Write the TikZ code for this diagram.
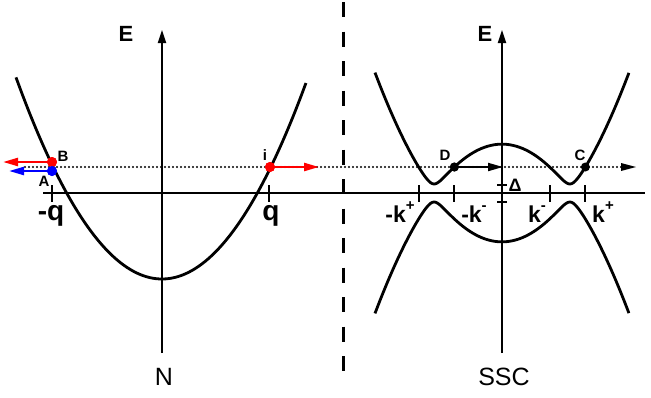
\documentclass[tikz,border=0pt]{standalone}
\usepackage{fontspec}
\setmainfont{Liberation Sans}
\usetikzlibrary{arrows.meta}
\newcommand{\supp}[1]{\raisebox{0.5em}{\fontsize{15}{15}\selectfont #1}}
\begin{document}
\begin{tikzpicture}[x=1pt,y=-1pt,
  axis/.style={line width=1.8pt},
  curve/.style={line width=2.8pt},
  tickmark/.style={line width=1.8pt},
  dotline/.style={line width=2.2pt, line cap=round, dash pattern=on 0pt off 4pt},
  axtip/.style={-{Triangle[length=13pt,width=8pt]}},
  vec/.style={line width=2.4pt, -{Triangle[length=15pt,width=8pt]}},
  pt/.style={circle, inner sep=0pt, minimum size=10pt, fill=#1},
  lbl/.style={font=\fontsize{15}{15}\selectfont\bfseries, inner sep=0pt},
  biglbl/.style={font=\fontsize{28}{28}\selectfont\bfseries, inner sep=0pt, anchor=base},
  klbl/.style={font=\fontsize{23}{23}\selectfont\bfseries, inner sep=0pt, anchor=base},
  elbl/.style={font=\fontsize{22}{22}\selectfont\bfseries, inner sep=0pt},
  panel/.style={font=\fontsize{25}{25}\selectfont, inner sep=0pt}
]
\useasboundingbox (0,0) rectangle (651,397);

% coordinates
\coordinate (hl) at (43,193);
\coordinate (hr) at (645,193);
\coordinate (nb) at (162,353);
\coordinate (nt) at (162,30);
\coordinate (sb) at (502,353);
\coordinate (st) at (502,30);
\coordinate (dl) at (25,167);
\coordinate (dr) at (636,167);
\coordinate (dashtop) at (343,2);
\coordinate (dashbot) at (343,376);

% dashed separator
\draw[line width=3pt, dash pattern=on 15pt off 14.5pt] (dashtop) -- (dashbot);

% axes
\draw[axis] (hl) -- (hr);
\draw[axis, axtip] (nb) -- (nt);
\draw[axis, axtip] (sb) -- (st);

% ticks
\foreach \xx/\nm in {52/tq1, 269/tq2, 419/tk1, 454/tk2, 550/tk3, 585/tk4}{
  \coordinate (\nm a) at (\xx,185);
  \coordinate (\nm b) at (\xx,202);
  \draw[tickmark] (\nm a) -- (\nm b);
}
\coordinate (dta) at (497,185); \coordinate (dtb) at (507,185);
\coordinate (dtc) at (497,202); \coordinate (dtd) at (507,202);
\draw[tickmark] (dta) -- (dtb);
\draw[tickmark] (dtc) -- (dtd);

% curves
\draw[curve] plot[domain=-1.46:1.44, samples=90, smooth] ({162+100*\x},{279-94.6*\x*\x});
\draw[curve] plot[domain=-1.27:1.27, samples=161, smooth]
  ({502+100*\x},{193-10*sqrt((10.42*(\x*\x-0.4608))^2+0.81)});
\draw[curve] plot[domain=-1.27:1.27, samples=161, smooth]
  ({502+100*\x},{193+10*sqrt((10.42*(\x*\x-0.4608))^2+0.81)});

% dotted line
\coordinate (dh) at (624,167);
\draw[dotline] (dl) -- (dh);
\fill (dr) -- ++(-15,-4) -- ++(0,8) -- cycle;

% points
\node[pt=red] (B) at (52,162) {};
\node[pt=blue] (A) at (52,171) {};
\node[pt=red] (I) at (270,167) {};
\node[pt=black, minimum size=9pt] (D) at (454.4,167) {};
\node[pt=black, minimum size=9pt] (C) at (585.4,167) {};
\coordinate (Bt) at (3,162);
\coordinate (At) at (9,171);
\coordinate (It) at (319,167);
\coordinate (Dt) at (503,167);

% vectors
\draw[vec, red] (B.center) -- (Bt);
\draw[vec, blue] (A.center) -- (At);
\draw[vec, red] (I.center) -- (It);
\draw[vec, black, line width=2pt] (D.center) -- (Dt);
\node[pt=red] at (B) {};
\node[pt=blue] at (A) {};
\node[pt=red] at (I) {};
\node[pt=black, minimum size=9pt] at (D) {};

% labels
\node[lbl] (lB) at (63,156) {B};
\node[lbl] (lA) at (44,181) {A};
\node[lbl] (lI) at (265,155) {i};
\node[lbl] (lD) at (445,155) {D};
\node[lbl] (lC) at (580,155) {C};
\node[elbl] (E1) at (126,34) {E};
\node[elbl] (E2) at (485,34) {E};
\node[biglbl] (mq) at (51,220) {-q};
\node[biglbl] (q) at (271,220) {q};
\node[klbl] (mkp) at (400,222) {-k\supp{+}};
\node[klbl] (mkm) at (474,222) {-k\supp{-}};
\node[klbl] (km) at (537,222) {k\supp{-}};
\node[klbl] (kp) at (603,222) {k\supp{+}};
\node[font=\fontsize{18}{18}\selectfont\bfseries, inner sep=0pt] (dlt) at (515,185) {Δ};
\node[panel] (N) at (164,377) {N};
\node[panel] (SSC) at (504,377) {SSC};
\end{tikzpicture}
\end{document}
